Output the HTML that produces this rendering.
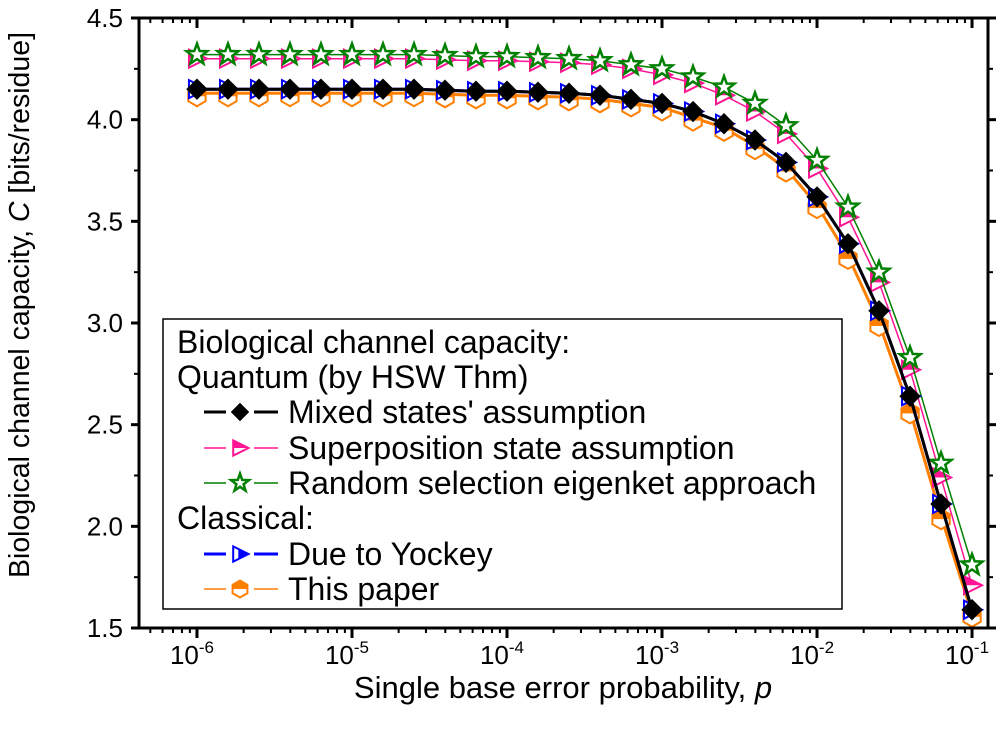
<!DOCTYPE html>
<html><head><meta charset="utf-8"><style>
html,body{margin:0;padding:0;background:#fff;}
svg text{font-family:"Liberation Sans",sans-serif;}
</style></head><body>
<svg id="chart" width="1000" height="733" viewBox="0 0 1000 733" xmlns="http://www.w3.org/2000/svg">
<defs>
<clipPath id="plotclip"><rect x="139" y="18" width="849" height="610"/></clipPath>
</defs>
<g id="grid"></g>
<g id="series" clip-path="url(#plotclip)"></g>
<g id="axes"></g>
<g id="legend"></g>
</svg>
<script>
const exps = [-6,-5.8,-5.6,-5.4,-5.2,-5,-4.8,-4.6,-4.4,-4.2,-4,-3.8,-3.6,-3.4,-3.2,-3,-2.8,-2.6,-2.4,-2.2,-2,-1.8,-1.6,-1.4,-1.2,-1];
const mixed = [4.15,4.15,4.15,4.15,4.15,4.15,4.15,4.15,4.145,4.14,4.14,4.135,4.13,4.12,4.10,4.08,4.04,3.98,3.90,3.79,3.62,3.39,3.06,2.64,2.11,1.59];
const superpos = [4.30,4.30,4.30,4.30,4.30,4.30,4.30,4.30,4.295,4.29,4.29,4.285,4.28,4.27,4.25,4.22,4.18,4.12,4.04,3.93,3.76,3.52,3.20,2.77,2.24,1.71];
const randsel = [4.32,4.32,4.32,4.32,4.32,4.32,4.32,4.32,4.315,4.31,4.31,4.305,4.30,4.29,4.27,4.25,4.21,4.16,4.08,3.97,3.80,3.57,3.25,2.83,2.31,1.81];
const yockey = [4.15,4.15,4.15,4.15,4.15,4.15,4.15,4.15,4.145,4.14,4.14,4.135,4.13,4.12,4.10,4.08,4.04,3.98,3.90,3.79,3.62,3.39,3.06,2.64,2.11,1.59];
const thispaper = [4.13,4.13,4.13,4.13,4.13,4.13,4.13,4.13,4.125,4.12,4.12,4.115,4.11,4.10,4.08,4.06,4.01,3.96,3.87,3.76,3.58,3.33,3.00,2.57,2.05,1.57];
const yTicks = [1.5,2.0,2.5,3.0,3.5,4.0,4.5];
const xDecades = [-6,-5,-4,-3,-2,-1];

const NS="http://www.w3.org/2000/svg";
const L=139,R=988,T=18,B=628;
const xMin=-6.374,xMax=-0.897,yMin=1.5,yMax=4.5;
function xs(e){return L+(e-xMin)/(xMax-xMin)*(R-L);}
function ys(v){return B-(v-yMin)/(yMax-yMin)*(B-T);}
function mk(tag,attrs,parent){const el=document.createElementNS(NS,tag);for(const k in attrs)el.setAttribute(k,attrs[k]);parent.appendChild(el);return el;}
const axes=document.getElementById('axes'),series=document.getElementById('series'),legend=document.getElementById('legend');

const frame=mk('rect',{x:L,y:T,width:R-L,height:B-T,fill:'none',stroke:'#000','stroke-width':3},axes);


yTicks.forEach(v=>{
  const y=ys(v);
  mk('line',{x1:L-8,x2:L,y1:y,y2:y,stroke:'#000','stroke-width':3},axes);
  mk('line',{x1:R,x2:R+8,y1:y,y2:y,stroke:'#000','stroke-width':3},axes);
  if(v<4.5){const ym=ys(v+0.25);
    mk('line',{x1:L-5,x2:L,y1:ym,y2:ym,stroke:'#000','stroke-width':2},axes);
    mk('line',{x1:R,x2:R+5,y1:ym,y2:ym,stroke:'#000','stroke-width':2},axes);}
  const t=mk('text',{x:L-16,y:y+9,'text-anchor':'end','font-size':26},axes);
  t.textContent=v.toFixed(1);
  
  
});
for(let d=-7;d<=-1;d++){
  for(let m=1;m<=9;m++){
    const e=d+Math.log10(m);
    if(e<xMin||e>xMax)continue;
    const len=m===1?10:5,w=m===1?3:2;
    const x=xs(e);
    mk('line',{x1:x,x2:x,y1:B,y2:B+len,stroke:'#000','stroke-width':w},axes);
    mk('line',{x1:x,x2:x,y1:T,y2:T+len,stroke:'#000','stroke-width':w},axes);
  }
}
xDecades.forEach(d=>{
  const t=mk('text',{x:xs(d)-5,y:B+36,'text-anchor':'middle','font-size':26},axes);
  t.textContent='10';
  
  
  const s=mk('tspan',{dy:-11,'font-size':17},t);s.textContent=String(d);
});
const xt=mk('text',{x:563,y:698,'text-anchor':'middle','font-size':31},axes);
xt.innerHTML='Single base error probability, <tspan font-style="italic">p</tspan>';


const yt=mk('text',{x:0,y:0,'text-anchor':'middle','font-size':28.5,transform:'translate(29,305) rotate(-90)'},axes);
yt.innerHTML='Biological channel capacity, <tspan font-style="italic">C</tspan> [bits/residue]';



function marker(type,cx,cy,color,g,s){
  s=s||1;
  if(type==='diamond'){
    mk('path',{d:`M${cx},${cy-10*s}L${cx+10*s},${cy}L${cx},${cy+10*s}L${cx-10*s},${cy}Z`,fill:'#000',stroke:'#000','stroke-width':1},g);
  }else if(type==='tri'){
    mk('path',{d:`M${cx-8*s},${cy-9*s}L${cx+10*s},${cy}L${cx-8*s},${cy+9*s}Z`,fill:'#fff',stroke:color,'stroke-width':2},g);
    mk('path',{d:`M${cx-8*s},${cy-9*s}L${cx+10*s},${cy}L${cx-8*s},${cy}Z`,fill:color},g);
  }else if(type==='trivert'){
    mk('path',{d:`M${cx-8*s},${cy-9*s}L${cx+10*s},${cy}L${cx-8*s},${cy+9*s}Z`,fill:'#fff',stroke:color,'stroke-width':2},g);
    mk('path',{d:`M${cx-2*s},${cy-6*s}L${cx+10*s},${cy}L${cx-2*s},${cy+6*s}Z`,fill:color},g);
  }else if(type==='star'){
    let p='';for(let i=0;i<10;i++){const r=i%2?4.5*s:11*s,a=-Math.PI/2+i*Math.PI/5;p+=(i?'L':'M')+(cx+r*Math.cos(a)).toFixed(1)+','+(cy+r*Math.sin(a)).toFixed(1);}
    mk('path',{d:p+'Z',fill:'#fff',stroke:color,'stroke-width':2.5},g);
  }else if(type==='hex'){
    let p='';for(let i=0;i<6;i++){const a=-Math.PI/2+i*Math.PI/3;p+=(i?'L':'M')+(cx+10*s*Math.cos(a)).toFixed(1)+','+(cy+10*s*Math.sin(a)).toFixed(1);}
    mk('path',{d:p+'Z',fill:'#fff',stroke:color,'stroke-width':2},g);
    mk('path',{d:`M${cx},${cy-10*s}L${cx+8.7*s},${cy-5*s}L${cx+8.7*s},${cy}L${cx-8.7*s},${cy}L${cx-8.7*s},${cy-5*s}Z`,fill:color},g);
  }
}
const seriesDefs=[
  {name:'series-this-paper',data:thispaper,color:'#ff7f00',w:3,m:'hex'},
  {name:'series-superposition',data:superpos,color:'#ff1493',w:1.5,m:'tri'},
  {name:'series-random-selection',data:randsel,color:'#008000',w:1.5,m:'star'},
  {name:'series-yockey',data:yockey,color:'#0000ff',w:3,m:'trivert'},
  {name:'series-mixed',data:mixed,color:'#000',w:3,m:'diamond'}
];
seriesDefs.forEach(sd=>{
  const g=mk('g',{},series);
  
  
  const pts=exps.map((e,i)=>xs(e).toFixed(1)+','+ys(sd.data[i]).toFixed(1)).join(' ');
  mk('polyline',{points:pts,fill:'none',stroke:sd.color,'stroke-width':sd.w},g);
  exps.forEach((e,i)=>marker(sd.m,xs(e),ys(sd.data[i])+(sd.m==='hex'?3:0),sd.color,g));
});

const lg=mk('g',{},legend);


mk('rect',{x:163,y:319,width:679,height:290,fill:'#fff',stroke:'#000','stroke-width':1.5},lg);
const rows=[
  {t:'Biological channel capacity:',y:353},
  {t:'Quantum (by HSW Thm)',y:388},
  {t:"Mixed states' assumption",y:423,m:'diamond',c:'#000',w:3},
  {t:'Superposition state assumption',y:459,m:'tri',c:'#ff1493',w:1.5},
  {t:'Random selection eigenket approach',y:494,m:'star',c:'#008000',w:1.5},
  {t:'Classical:',y:529},
  {t:'Due to Yockey',y:565,m:'trivert',c:'#0000ff',w:3},
  {t:'This paper',y:600,m:'hex',c:'#ff7f00',w:1.5}
];
rows.forEach(r=>{
  const g=mk('g',{},lg);
  
  
  if(r.m){
    const cy=r.y-11;
    mk('line',{x1:204,x2:226,y1:cy,y2:cy,stroke:r.c,'stroke-width':r.w},g);
    mk('line',{x1:254,x2:278,y1:cy,y2:cy,stroke:r.c,'stroke-width':r.w},g);
    marker(r.m,240,cy,r.c,g,0.85);
    const t=mk('text',{x:288,y:r.y,'font-size':32,textLength:r.t.length>20?0:null},g);
    t.removeAttribute('textLength');
    t.textContent=r.t;
  }else{
    const t=mk('text',{x:177,y:r.y,'font-size':32},g);t.textContent=r.t;
  }
});
</script>
</body></html>
